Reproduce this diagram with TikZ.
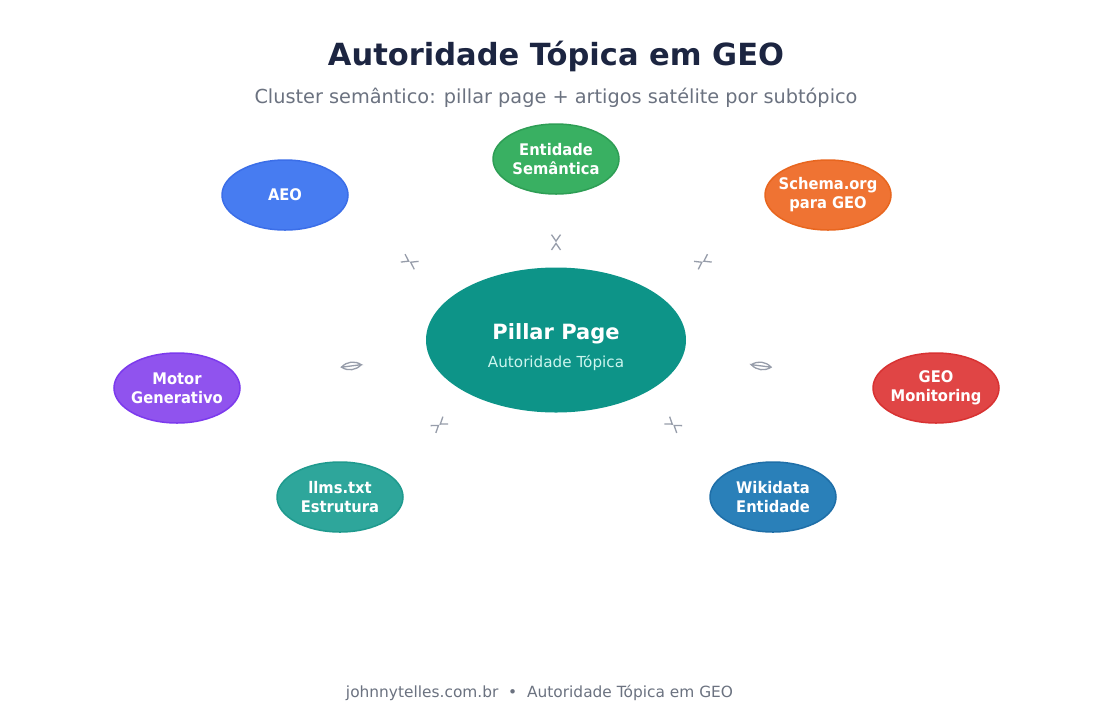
\documentclass[tikz,border=0pt]{standalone}
\usepackage{fontspec}
\setmainfont{DejaVu Sans}
\newfontfamily\topicfont{DejaVu Sans}[FakeStretch=0.92]
\usepackage{xcolor}
\usetikzlibrary{arrows.meta, shapes.geometric, decorations.markings}

\definecolor{titlenavy}{HTML}{1C2541}
\definecolor{subgray}{HTML}{6B7280}
\definecolor{linkgray}{HTML}{979DAA}
\definecolor{pillarfill}{HTML}{0D9488}
\definecolor{pillartxt}{HTML}{CCF5EE}
\definecolor{aeofill}{HTML}{477CF1}
\definecolor{aeoline}{HTML}{3B6EE8}
\definecolor{entfill}{HTML}{39B062}
\definecolor{entline}{HTML}{2E9E55}
\definecolor{schfill}{HTML}{EF7333}
\definecolor{schline}{HTML}{E8661F}
\definecolor{geofill}{HTML}{E04545}
\definecolor{geoline}{HTML}{D83232}
\definecolor{wikifill}{HTML}{2A80B9}
\definecolor{wikiline}{HTML}{1F6FA8}
\definecolor{llmsfill}{HTML}{2EA69B}
\definecolor{llmsline}{HTML}{1F9A8E}
\definecolor{motorfill}{HTML}{9053EE}
\definecolor{motorline}{HTML}{7C3AED}

\begin{document}
\begin{tikzpicture}[
  x=1pt, y=-1pt,
  every node/.style={text=white},
  pillarnode/.style={
    ellipse, fill=pillarfill, draw=none,
    minimum width=260pt, minimum height=145pt,
    align=center, inner sep=0pt,
  },
  topic/.style={
    ellipse, line width=1.5pt,
    minimum width=126pt, minimum height=70pt,
    inner xsep=-14pt, inner ysep=0pt, align=center,
    font=\topicfont\fontsize{16}{19}\selectfont\bfseries,
  },
  link/.style={
    line width=1.3pt, postaction={decorate},
    decoration={markings, mark=at position 0.54 with {
      \arrow[linkgray]{Straight Barb[length=6.5pt, width=9pt]}
      \arrowreversed[linkgray]{Straight Barb[length=6.5pt, width=9pt]}}},
  },
  linkeye/.style={
    postaction={decorate},
    decoration={markings, mark=at position 0.54 with {
      \draw[linkgray, line width=1.3pt] (-10pt,0) .. controls (-4pt,5pt) and (4pt,5pt) .. (10pt,0)
        .. controls (4pt,-5pt) and (-4pt,-5pt) .. (-10pt,0) -- (10pt,0);}},
  },
]
  \path[fill=white] (0,0) rectangle (1113,713);

  \node[font=\fontsize{30.5}{36}\selectfont\bfseries, text=titlenavy] (title) at (556,56) {Autoridade Tópica em GEO};
  \node[font=\fontsize{19.3}{23}\selectfont, text=subgray] (subtitle) at (556,98) {Cluster semântico: pillar page + artigos satélite por subtópico};

  \node[pillarnode] (pillar) at (556,340) {};
  \node[font=\fontsize{21}{25}\selectfont\bfseries] (pname) at (556,334) {Pillar Page};
  \node[font=\fontsize{15.2}{18}\selectfont, text=pillartxt] (psub) at (556,363) {Autoridade Tópica};

  \node[topic, fill=entfill, draw=entline] (ent) at (556,159) {Entidade\\Semântica};
  \node[topic, fill=aeofill, draw=aeoline] (aeo) at (285,195) {AEO};
  \node[topic, fill=schfill, draw=schline] (schema) at (828,195) {Schema.org\\para GEO};
  \node[topic, fill=motorfill, draw=motorline] (motor) at (177,388) {Motor\\Generativo};
  \node[topic, fill=geofill, draw=geoline] (geomon) at (936,388) {GEO\\Monitoring};
  \node[topic, fill=llmsfill, draw=llmsline] (llms) at (340,497) {llms.txt\\Estrutura};
  \node[topic, fill=wikifill, draw=wikiline] (wiki) at (773,497) {Wikidata\\Entidade};

  % pillar to satellites
  \path[link] (pillar.center) -- (ent.center);
  \path[link] (pillar.center) -- (aeo.center);
  \path[link] (pillar.center) -- (schema.center);
  \path[linkeye] (pillar.center) -- (motor.center);
  \path[linkeye] (pillar.center) -- (geomon.center);
  \path[link] (pillar.center) -- (llms.center);
  \path[link] (pillar.center) -- (wiki.center);

  \node[font=\fontsize{15.4}{18}\selectfont, text=subgray] (footer) at (539.5,693) {johnnytelles.com.br~~•~~Autoridade Tópica em GEO};
\end{tikzpicture}
\end{document}
